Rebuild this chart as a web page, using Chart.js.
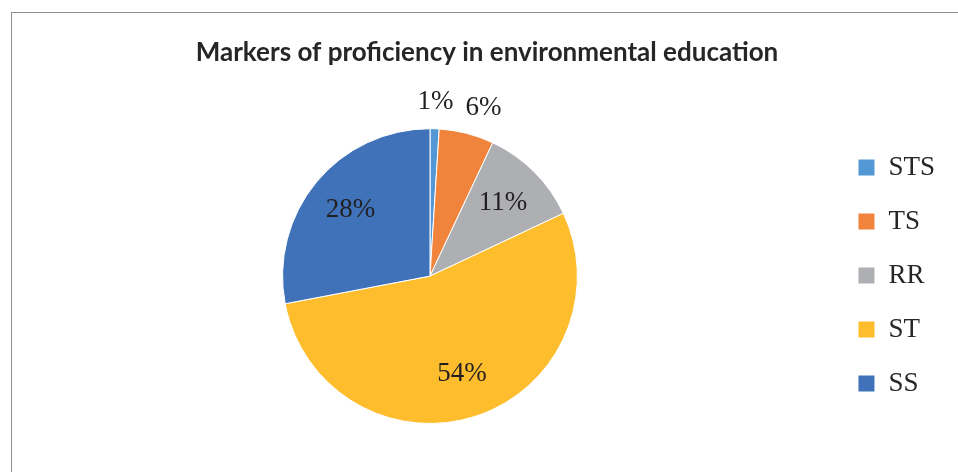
<!DOCTYPE html>
<html>
<head>
<meta charset="utf-8">
<script src="https://cdn.jsdelivr.net/npm/chart.js@4"></script>
<style>
    html, body { margin: 0; padding: 0; background: #ffffff; overflow: hidden; }
    #wrap { position: relative; width: 958px; height: 472px; }
    #frame {
        position: absolute; left: 11px; top: 12px;
        width: 980px; height: 500px;
        border: 1px solid #8f8f8f;
    }
    #markersChart { position: absolute; left: 0; top: 0; }
</style>
</head>
<body>
<div id="wrap">
    <div id="frame"></div>
    <canvas id="markersChart" width="958" height="472"></canvas>
</div>
<script>
    // Share of answers per marker (percent)
    const markers = ['STS', 'TS', 'RR', 'ST', 'SS'];
    const shares = [1, 6, 11, 54, 28];
    const sliceColors = ['#5397D4', '#F0843C', '#ADAFB2', '#FDBD2C', '#3F72B9'];

    // Percent labels: small slices get their label outside the pie,
    // pushed sideways so neighbouring outside labels don't collide
    const sliceLabels = {
        id: 'sliceLabels',
        afterDatasetsDraw(chart) {
            const ctx = chart.ctx;
            const meta = chart.getDatasetMeta(0);
            const data = chart.data.datasets[0].data;
            const total = data.reduce((a, b) => a + b, 0);
            const gap = 12;
            let lastRight = -Infinity;
            ctx.save();
            ctx.font = '27px "Liberation Serif"';
            ctx.fillStyle = '#231f20';
            ctx.textAlign = 'center';
            ctx.textBaseline = 'middle';
            meta.data.forEach((arc, i) => {
                const p = arc.getProps(['x', 'y', 'startAngle', 'endAngle', 'outerRadius'], true);
                const mid = (p.startAngle + p.endAngle) / 2;
                const text = data[i] + '%';
                const outside = data[i] / total < 0.08;
                const dist = outside ? p.outerRadius * 1.18 : p.outerRadius * 0.7;
                let x = p.x + Math.cos(mid) * dist;
                const y = p.y + Math.sin(mid) * dist;
                if (outside) {
                    const w = ctx.measureText(text).width;
                    if (x - w / 2 < lastRight + gap) x = lastRight + gap + w / 2;
                    lastRight = x + w / 2;
                }
                ctx.fillText(text, x, y);
            });
            ctx.restore();
        }
    };

    const ctx = document.getElementById('markersChart');
    new Chart(ctx, {
        type: 'pie',
        data: {
            labels: markers,
            datasets: [{
                data: shares,
                backgroundColor: sliceColors,
                borderColor: '#ffffff',
                borderWidth: 1
            }]
        },
        plugins: [sliceLabels],
        options: {
            responsive: false,
            animation: false,
            layout: {
                padding: { left: 29, right: 13, top: 0, bottom: 48 }
            },
            plugins: {
                title: {
                    display: true,
                    text: 'Markers of proficiency in environmental education',
                    color: '#262626',
                    font: { family: 'Lato', weight: 'bold', size: 26 },
                    padding: { top: 37, bottom: 60 }
                },
                legend: {
                    position: 'right',
                    align: 'end',
                    labels: {
                        color: '#262626',
                        font: { family: 'Liberation Serif', size: 27 },
                        boxWidth: 17,
                        boxHeight: 17,
                        padding: 27
                    }
                },
                tooltip: { enabled: false }
            }
        }
    });
</script>
</body>
</html>
